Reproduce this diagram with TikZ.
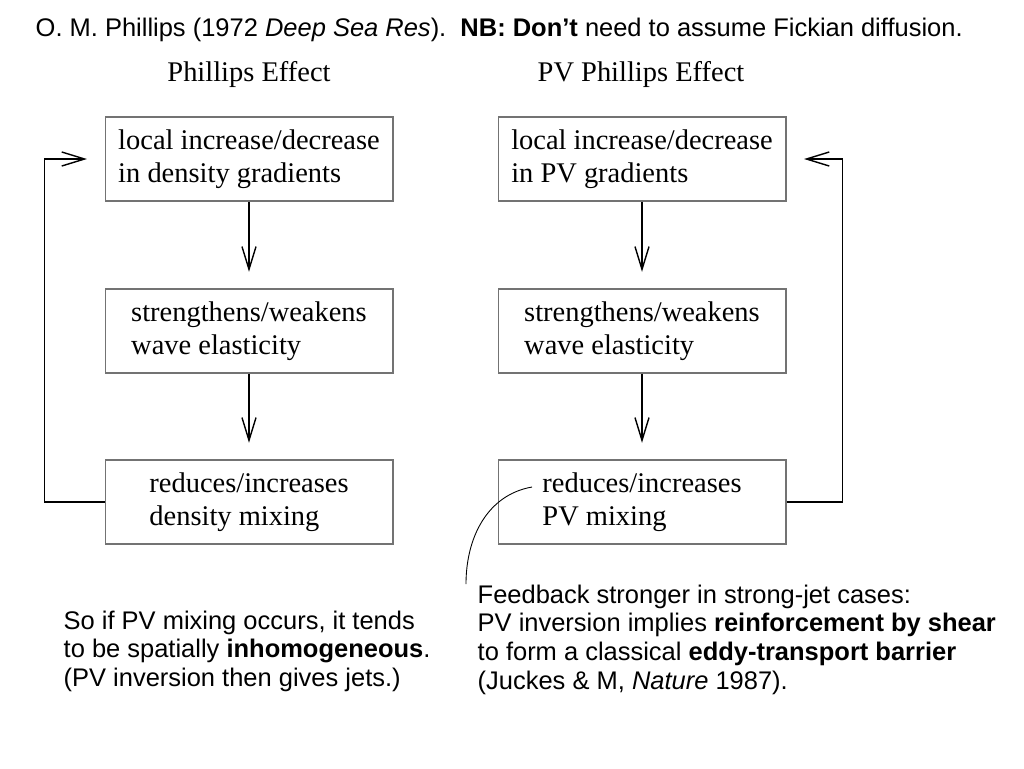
\documentclass[tikz,border=0pt]{standalone}
\usepackage{fontspec}
\setmainfont{Liberation Serif}
\setsansfont{Liberation Sans}
\usetikzlibrary{arrows.meta}

\begin{document}
\begin{tikzpicture}[x=0.02cm,y=-0.02cm,
   box/.style={draw=black!55, line width=0.6pt, minimum width=5.76cm, minimum height=1.68cm,
      align=left, inner sep=0pt, font=\fontsize{16.2}{19}\selectfont},
   head/.style={font=\fontsize{16.2}{19}\selectfont, anchor=base},
   note/.style={font=\sffamily\fontsize{14.5}{16.4}\selectfont, align=left, anchor=north west, inner sep=0pt},
   >={Straight Barb[length=13pt,width=8pt]}, line width=0.8pt]
   \useasboundingbox (0,0) rectangle (1024,768);

   \node[font=\sffamily\fontsize{14.5}{16.4}\selectfont, anchor=base west, inner sep=0pt] (title) at (35,36)
      {O. M. Phillips (1972 \textit{Deep Sea Res}).\ \ \textbf{NB: Don’t} need to assume Fickian diffusion.};

   \node[head] (LH) at (249,81) {Phillips Effect};
   \node[head] (RH) at (641,81) {PV Phillips Effect};

   \node[box] (L1) at (249,159) {local increase/decrease\\in density gradients};
   \node[box] (L2) at (249,331) {strengthens/weakens\\wave elasticity};
   \node[box] (L3) at (249,502) {reduces/increases\\density mixing};

   \node[box] (R1) at (642,159) {local increase/decrease\\in PV gradients};
   \node[box] (R2) at (642,331) {strengthens/weakens\\wave elasticity};
   \node[box] (R3) at (642,502) {reduces/increases\\PV mixing};

   \draw[->, shorten >=9.5pt] (L1) -- (L2);
   \draw[->, shorten >=9.5pt] (L2) -- (L3);
   \draw[->, shorten >=9.5pt] (R1) -- (R2);
   \draw[->, shorten >=9.5pt] (R2) -- (R3);

   \draw[->, shorten >=10pt] (L3.west) -- ++(-60,0) |- (L1.west);
   \draw[->, shorten >=10pt] (R3.east) -- ++(56,0) |- (R1.east);

   \node[note] (Lnote) at (63,610) {So if PV mixing occurs, it tends\\to be spatially \textbf{inhomogeneous}.\\(PV inversion then gives jets.)};
   \node[note] (Rnote) at (477,584) {Feedback stronger in strong-jet cases:\\PV inversion implies \textbf{reinforcement by shear}\\to form a classical \textbf{eddy-transport barrier}\\(Juckes \& M, \textit{Nature} 1987).};

   \coordinate (c1) at (532,487);
   \coordinate (c2) at (466,584);
   \draw[line width=0.5pt] (c1) to[out=190,in=90] (c2);
\end{tikzpicture}
\end{document}
